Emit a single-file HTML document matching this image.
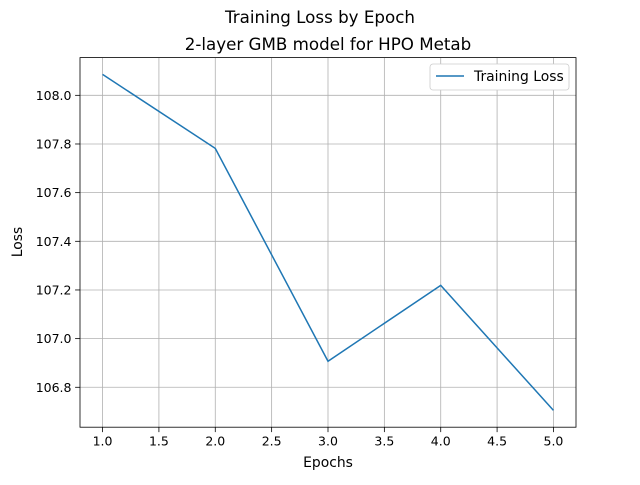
<!DOCTYPE html>
<html><head><meta charset="utf-8"><style>
body{margin:0;background:#fff;}
svg text{font-family:"DejaVu Sans","Liberation Sans",sans-serif;fill:#000;}
</style></head><body>
<svg id="chart" width="640" height="480" viewBox="0 0 640 480">
<text x="320" y="23" font-size="16.7" text-anchor="middle">Training Loss by Epoch</text>
<text x="328" y="50" font-size="16.7" text-anchor="middle">2-layer GMB model for HPO Metab</text>
<g id="grid"></g>
<g id="ticks"></g>
<polyline id="line" fill="none" stroke="#1f77b4" stroke-width="1.5"/>
<rect x="80" y="57.6" width="496" height="369.6" fill="none" stroke="#000" stroke-width="0.8"/>
<text x="328" y="467" font-size="13.9" text-anchor="middle">Epochs</text>
<text transform="translate(22,242) rotate(-90)" font-size="13.9" text-anchor="middle">Loss</text>
<g>
<rect x="430" y="64" width="139" height="26" rx="3" fill="#fff" stroke="#ccc" stroke-width="0.8"/>
<line x1="436" y1="76" x2="464" y2="76" stroke="#1f77b4" stroke-width="1.5"/>
<text x="474" y="81" font-size="13.9">Training Loss</text>
</g>
</svg>
<script>
const epochs=[1,2,3,4,5];
const losses=[108.086,107.782,106.907,107.219,106.705];
const xTicks=[1.0,1.5,2.0,2.5,3.0,3.5,4.0,4.5,5.0];
const yTicks=[106.8,107.0,107.2,107.4,107.6,107.8,108.0];
const L=80,R=576,T=57.6,B=427.2;
const xMin=0.8,xMax=5.2;
const yMin=Math.min(...losses),yMax=Math.max(...losses),m=(yMax-yMin)*0.05;
const y0=yMin-m,y1=yMax+m;
const sx=v=>L+(v-xMin)/(xMax-xMin)*(R-L);
const sy=v=>B-(v-y0)/(y1-y0)*(B-T);
const NS="http://www.w3.org/2000/svg";
const grid=document.getElementById('grid'),ticks=document.getElementById('ticks');
function mk(tag,attrs,parent){const e=document.createElementNS(NS,tag);for(const k in attrs)e.setAttribute(k,attrs[k]);parent.appendChild(e);return e;}
xTicks.forEach(v=>{const x=sx(v);
const g=mk('line',{x1:x,x2:x,y1:T,y2:B,stroke:'#b0b0b0','stroke-width':0.8},grid);


const t=mk('line',{x1:x,x2:x,y1:B,y2:B+4.9,stroke:'#000','stroke-width':0.8},ticks);


const l=mk('text',{x:x,y:B+18.5,'font-size':12.5,'text-anchor':'middle'},ticks);l.textContent=v.toFixed(1);

});
yTicks.forEach(v=>{const y=sy(v);
const g=mk('line',{x1:L,x2:R,y1:y,y2:y,stroke:'#b0b0b0','stroke-width':0.8},grid);


const t=mk('line',{x1:L-4.9,x2:L,y1:y,y2:y,stroke:'#000','stroke-width':0.8},ticks);


const l=mk('text',{x:L-8.5,y:y+4.5,'font-size':12.5,'text-anchor':'end'},ticks);l.textContent=v.toFixed(1);

});
document.getElementById('line').setAttribute('points',epochs.map((e,i)=>sx(e)+','+sy(losses[i])).join(' '));
</script>
</body></html>
